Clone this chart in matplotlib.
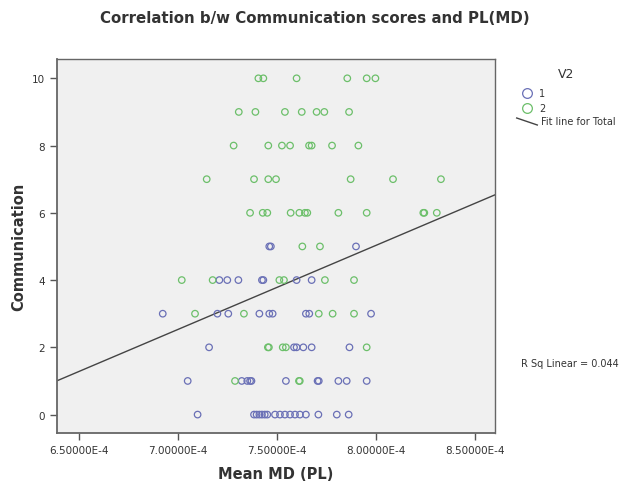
import numpy as np
import matplotlib.pyplot as plt
from matplotlib.lines import Line2D
from matplotlib.ticker import FuncFormatter

# Mean MD (PL), in units of 1e-4, grouped by Communication score
v2_1 = {
    5: [7.462, 7.470, 7.900],
    4: [7.210, 7.250, 7.306, 7.425, 7.432, 7.600, 7.676],
    3: [6.924, 7.200, 7.255, 7.412, 7.462, 7.479, 7.647, 7.664, 7.976],
    2: [7.158, 7.587, 7.600, 7.634, 7.676, 7.867],
    1: [7.050, 7.323, 7.351, 7.365, 7.372, 7.546, 7.706, 7.712, 7.811, 7.853, 7.954],
    0: [7.100, 7.385, 7.398, 7.412, 7.425, 7.439, 7.452, 7.491, 7.516, 7.541,
        7.567, 7.592, 7.617, 7.647, 7.710, 7.803, 7.863],
}
v2_2 = {
    10: [7.407, 7.432, 7.600, 7.856, 7.954, 7.998],
    9: [7.308, 7.392, 7.541, 7.626, 7.701, 7.740, 7.865],
    8: [7.282, 7.457, 7.526, 7.567, 7.663, 7.676, 7.779, 7.912],
    7: [7.146, 7.385, 7.457, 7.496, 7.873, 8.087, 8.329],
    6: [7.365, 7.429, 7.452, 7.570, 7.614, 7.642, 7.654, 7.811, 7.954, 8.240, 8.245, 8.308],
    5: [7.629, 7.718],
    4: [7.020, 7.176, 7.513, 7.536, 7.743, 7.890],
    3: [7.087, 7.334, 7.712, 7.782, 7.890],
    2: [7.455, 7.460, 7.530, 7.546, 7.954],
    1: [7.289, 7.612, 7.616],
}

# fit line for total
fit_intercept = -14.97
fit_slope = 2.5e4
r_sq = 0.044

xticks = [6.5e-4, 7.0e-4, 7.5e-4, 8.0e-4, 8.5e-4]
yticks = [0, 2, 4, 6, 8, 10]

blue = '#6a70b6'
green = '#6cbf6a'
txt = '#333333'


def flatten(groups):
    xs, ys = [], []
    for score, vals in groups.items():
        for v in vals:
            xs.append(v * 1e-4)
            ys.append(score)
    return np.array(xs), np.array(ys)


x1, y1 = flatten(v2_1)
x2, y2 = flatten(v2_2)

fig = plt.figure(figsize=(6.3, 4.85), dpi=100)
ax = fig.add_axes([0.0905, 0.105, 0.6952, 0.771])
ax.set_facecolor('#f0f0f0')

ax.scatter(x1, y1, s=22, facecolors='none', edgecolors=blue, linewidths=0.9, zorder=3)
ax.scatter(x2, y2, s=22, facecolors='none', edgecolors=green, linewidths=0.9, zorder=3)

xlim = (6.39e-4, 8.602e-4)
xs = np.array(xlim)
ax.plot(xs, fit_intercept + fit_slope * xs, color='#444444', lw=1.0, zorder=2)

ax.set_xlim(*xlim)
ax.set_ylim(-0.55, 10.57)
ax.set_xticks(xticks)
ax.set_yticks(yticks)
ax.xaxis.set_major_formatter(FuncFormatter(lambda v, p: f"{v * 1e4:.5f}E-4"))
ax.tick_params(labelsize=7.5, colors='#555555', labelcolor=txt, length=5, width=1)

for side, sp in ax.spines.items():
    sp.set_color('#666666')
    sp.set_linewidth(1.3 if side in ('left', 'bottom') else 1.0)

ax.set_xlabel('Mean MD (PL)', fontsize=10.5, fontweight='bold', color=txt, labelpad=8)
ax.set_ylabel('Communication', fontsize=10.5, fontweight='bold', color=txt, labelpad=4)

fig.text(0.5, 0.962, 'Correlation b/w Communication scores and PL(MD)',
         ha='center', va='center', fontsize=10.8, fontweight='bold', color=txt)

# legend
fig.text(566 / 630, 1 - 75 / 485, 'V2', ha='center', va='center', fontsize=9, color=txt)
fig.add_artist(Line2D([526.7 / 630], [1 - 94.3 / 485], marker='o', ms=7, mfc='none',
                      mec=blue, mew=0.9, ls='none'))
fig.add_artist(Line2D([526.7 / 630], [1 - 108.7 / 485], marker='o', ms=7, mfc='none',
                      mec=green, mew=0.9, ls='none'))
fig.text(539 / 630, 1 - 94.3 / 485, '1', ha='left', va='center', fontsize=7, color=txt)
fig.text(539 / 630, 1 - 108.7 / 485, '2', ha='left', va='center', fontsize=7, color=txt)
fig.add_artist(Line2D([516.7 / 630, 537.3 / 630], [1 - 119 / 485, 1 - 126 / 485],
                      color='#444444', lw=1.0))
fig.text(541 / 630, 1 - 122 / 485, 'Fit line for Total', ha='left', va='center',
         fontsize=7, color=txt)

fig.text(521 / 630, 1 - 364 / 485, f'R Sq Linear = {r_sq}', ha='left', va='center',
         fontsize=7, color=txt)

fig.savefig('out.png', dpi=100, facecolor='white')
